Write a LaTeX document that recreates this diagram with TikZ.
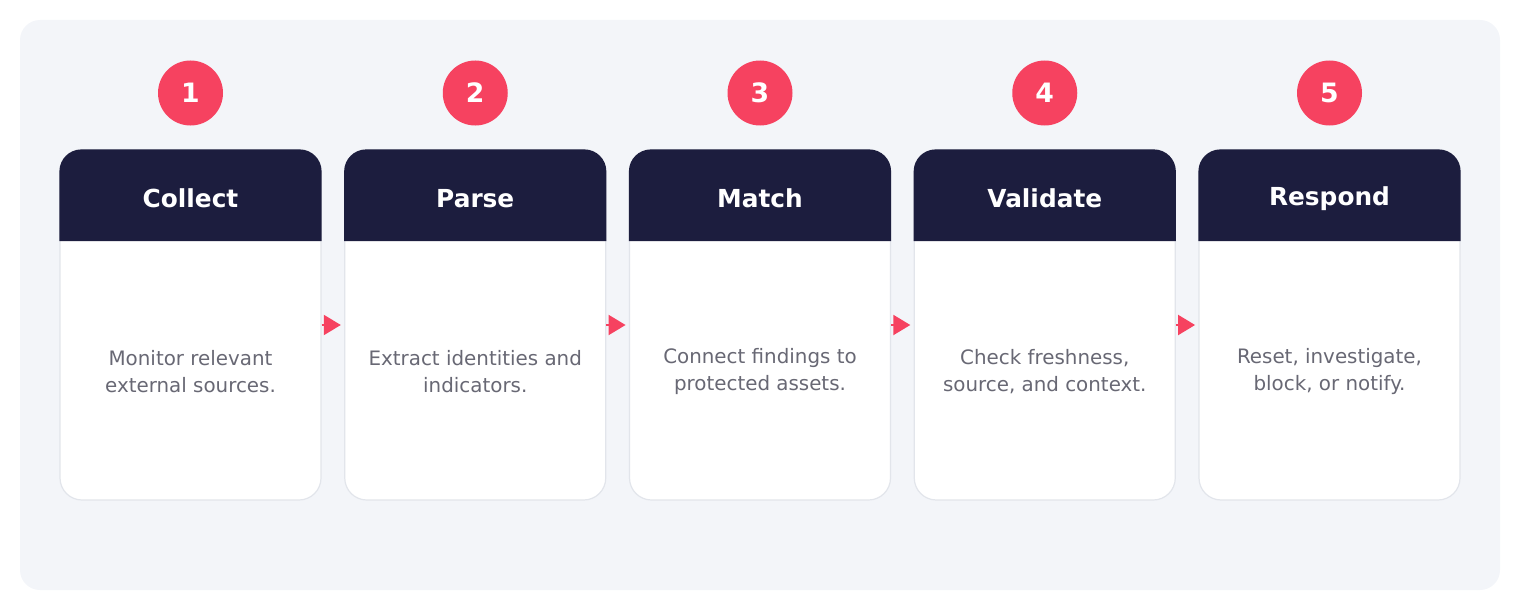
\documentclass[tikz,border=0pt]{standalone}
\usepackage{fontspec}
\setmainfont{DejaVu Sans}
\usetikzlibrary{arrows.meta}
\definecolor{panelbg}{RGB}{243,245,249}
\definecolor{navy}{RGB}{28,29,62}
\definecolor{accent}{RGB}{246,66,96}
\definecolor{bodytext}{RGB}{104,104,116}
\definecolor{cardline}{RGB}{226,229,235}
\tikzset{
  card/.style={draw=cardline, line width=0.9pt, fill=white, rounded corners=16.5pt,
    minimum width=195.75pt, minimum height=262.5pt, inner sep=0pt},
  numdot/.style={circle, fill=accent, minimum size=48.75pt, inner sep=0pt,
    text=white, font=\bfseries\fontsize{20}{24}\selectfont},
  headtxt/.style={text=white, font=\bfseries\fontsize{18.6}{22}\selectfont},
  bodytxt/.style={text=bodytext, align=center, font=\fontsize{14.9}{20.25}\selectfont},
  flow/.style={draw=accent, line width=1.5pt,
    -{Triangle[length=12.75pt,width=15pt]}, shorten >=2.5pt},
  headfill/.style={fill=navy, rounded corners=16.5pt},
}
\begin{document}
\begin{tikzpicture}[x=0.75pt,y=-0.75pt]
\useasboundingbox (0,0) rectangle (1520,610);
\fill[panelbg, rounded corners=15pt] (20,20) rectangle (1500,590);

\foreach \i/\t in {1/Collect,2/Parse,3/Match,4/Validate,5/Respond}{
  \pgfmathsetmacro{\cx}{190.5+284.75*(\i-1)}
  \node[card] (c\i) at (\cx,325) {};
  \fill[headfill] (c\i.west |- 0,241) -- (c\i.north west) -- (c\i.north east) -- (c\i.east |- 0,241);
  \node[headtxt] (h\i) at (\cx,198.5) {\t};
  \node[numdot] (n\i) at (\cx,93) {\i};
}

\node[bodytxt] (b1) at (c1 |- 0,371.5) {Monitor relevant\\external sources.};
\node[bodytxt] (b2) at (c2 |- 0,371.5) {Extract identities and\\indicators.};
\node[bodytxt] (b3) at (c3 |- 0,371.5) {Connect findings to\\protected assets.};
\node[bodytxt] (b4) at (c4 |- 0,371.5) {Check freshness,\\source, and context.};
\node[bodytxt] (b5) at (c5 |- 0,371.5) {Reset, investigate,\\block, or notify.};

\draw[flow] (c1.east) -- (c2.west);
\draw[flow] (c2.east) -- (c3.west);
\draw[flow] (c3.east) -- (c4.west);
\draw[flow] (c4.east) -- (c5.west);
\end{tikzpicture}
\end{document}
